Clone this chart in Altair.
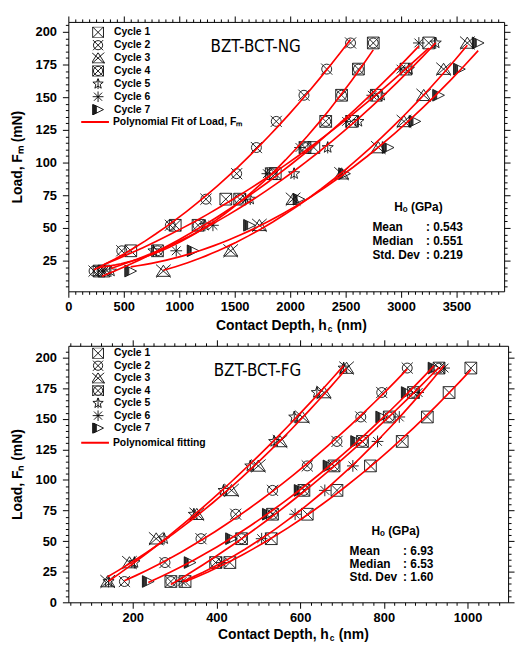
import math
import altair as alt
import pandas as pd

# ---------------- data ----------------
cycles = ["Cycle 1", "Cycle 2", "Cycle 3", "Cycle 4", "Cycle 5", "Cycle 6", "Cycle 7"]
loads = [17, 32.5, 52, 72, 91.5, 111.5, 131.5, 151.5, 171.5, 191.5]

# BZT-BCT-NG : contact depth (nm) at each load level
ng_cycle1 = [321, 563, 964, 1420, 1866, 2214, 2554, 2777, 3045, 3250]
ng_cycle2 = [232, 482, 920, 1241, 1518, 1696, 1875, 2125, 2330, 2545]
ng_cycle3 = [857, 1464, 1723, 2027, 2464, 2795, 3027, 3205, 3384, 3598]
ng_cycle4 = [277, 804, 1170, 1545, 1830, 2134, 2321, 2464, 2616, 2750]
ng_cycle5 = [384, 768, 1232, 1640, 2036, 2339, 2616, 2821, 3071, 3313]
ng_cycle6 = [304, 973, 1304, 1600, 1795, 2089, 2509, 2741, 3000, 3161]
ng_cycle7 = [562, 1125, 1634, 2080, 2491, 2884, 3125, 3339, 3527, 3696]

# BZT-BCT-FG : contact depth (nm) at each load level
fg_cycle1 = [325, 432, 531, 617, 688, 768, 844, 904, 956, 1008]
fg_cycle2 = [180, 277, 363, 446, 534, 617, 688, 745, 795, 856]
fg_cycle3 = [140, 192, 256, 353, 436, 500, 552, 605, 657, 711]
fg_cycle4 = [291, 398, 460, 534, 609, 681, 749, 813, 871, 932]
fg_cycle5 = [142, 204, 275, 346, 417, 481, 538, 586, 640, 704]
fg_cycle6 = [318, 413, 508, 588, 659, 726, 785, 837, 882, 944]
fg_cycle7 = [237, 337, 436, 524, 600, 669, 735, 795, 856, 920]

ng_name = ["BZT-BCT-NG"]
fg_name = ["BZT-BCT-FG"]
ng_fit_label = "Polynomial Fit of Load, F\u2098"
fg_fit_label = "Polynomical fitting"
stat_header = ["H\u2092 (GPa)"]
stat_names = ["Mean", "Median", "Std. Dev"]
ng_stats = [": 0.543", ": 0.551", ": 0.219"]
fg_stats = [": 6.93", ": 6.53", ": 1.60"]


def long_df(series):
    rows = []
    for cyc, depths in zip(cycles, series):
        for d, l in zip(depths, loads):
            rows.append({"cycle": cyc, "depth": d, "load": l})
    return pd.DataFrame(rows)


ng_df = long_df([ng_cycle1, ng_cycle2, ng_cycle3, ng_cycle4, ng_cycle5, ng_cycle6, ng_cycle7])
fg_df = long_df([fg_cycle1, fg_cycle2, fg_cycle3, fg_cycle4, fg_cycle5, fg_cycle6, fg_cycle7])

# ---------------- marker shapes ----------------
SQ = "M-1,-1L1,-1L1,1L-1,1Z"


def circ(r):
    return f"M{r},0A{r},{r},0,1,1,{-r},0A{r},{r},0,1,1,{r},0Z"


def xcross(a):
    return f"M{-a},{-a}L{a},{a}M{-a},{a}L{a},{-a}"


def star():
    pts = []
    for i in range(10):
        r = 1.0 if i % 2 == 0 else 0.42
        ang = -math.pi / 2 + i * math.pi / 5
        pts.append(f"{r * math.cos(ang):.3f},{r * math.sin(ang):.3f}")
    return "M" + "L".join(pts) + "Z"


half_fill = "".join(
    f"M{x:.2f},{-(1 - x) / 2 + 0.02:.2f}L{x:.2f},{(1 - x) / 2 - 0.02:.2f}"
    for x in [-0.92, -0.8, -0.68, -0.56, -0.44, -0.32]
)

shape_paths = [
    SQ + xcross(1),
    circ(0.85) + xcross(0.95),
    "M0,-1L1.2,0.9L-1.2,0.9Z" + "M-1.25,-1.1L1.25,1.1M-1.25,1.1L1.25,-1.1",
    SQ + circ(0.85) + xcross(1),
    star() + "M0,-1L0,1",
    "M-1,0L1,0M0,-1L0,1" + xcross(0.75),
    "M-1,-1L1,0L-1,1Z" + half_fill,
]

FONT = "Liberation Sans"
NAME_FONT = "Liberation Sans Narrow, DejaVu Sans Condensed, Roboto, sans-serif"


def tick_values(d0, d1, step):
    i0 = math.ceil(d0 / step - 1e-9)
    i1 = math.floor(d1 / step + 1e-9)
    return [round(i * step, 4) for i in range(i0, i1 + 1)]


def tsize(major):
    return {"condition": {"test": f"abs(datum.value % {major}) < 0.001", "value": 6}, "value": 3}


def main_axis(orient, vals, major, label_mod, pad, title=None):
    kw = dict(
        orient=orient, values=vals, tickSize=tsize(major), grid=False,
        labelExpr=f"abs(datum.value % {label_mod}) < 0.001 ? format(datum.value, 'd') : ''",
        labelOverlap=False, labelFlush=False, labelPadding=pad,
        domainColor="black", tickColor="black", labelColor="black",
        labelFont=FONT, labelFontSize=13, labelFontWeight="bold",
    )
    if title is not None:
        kw.update(title=title, titleFont=FONT, titleFontSize=14, titleFontWeight="bold",
                  titleColor="black", titlePadding=11)
    else:
        kw.update(title=None)
    return alt.Axis(**kw)


def mirror_axis(orient, vals, major):
    return alt.Axis(orient=orient, values=vals, tickSize=tsize(major), grid=False, labels=False,
                    title=None, domainColor="black", tickColor="black")


def panel(df, xdom, ydom, w, h, xmajor, xminor, xlab, ymajor, yminor, ylab, ytitle,
          fit_label, name, stats, stat_x, stat_y, stat_lh, xt_c, xt_y, leg_y, leg_row, line_y):
    xs = alt.Scale(domain=xdom, nice=False, zero=False)
    ys = alt.Scale(domain=ydom, nice=False, zero=False)
    xv = tick_values(xdom[0], xdom[1], xminor)
    yv = tick_values(ydom[0], ydom[1], yminor)

    pts = alt.Chart(df).mark_point(filled=False, size=140, strokeWidth=0.9, color="#111", opacity=1).encode(
        x=alt.X("depth:Q", scale=xs, axis=main_axis("bottom", xv, xmajor, xlab, 3)),
        y=alt.Y("load:Q", scale=ys, axis=main_axis("left", yv, ymajor, ylab, 6, ytitle)),
        shape=alt.Shape("cycle:N", scale=alt.Scale(domain=cycles, range=shape_paths),
                        legend=alt.Legend(orient="none", legendX=24, legendY=leg_y, title=None,
                                          labelFont=FONT, labelFontSize=10.5, labelFontWeight="bold",
                                          labelColor="black", symbolSize=120, symbolStrokeColor="black",
                                          symbolStrokeWidth=0.9, symbolFillColor="transparent",
                                          clipHeight=11, rowPadding=leg_row, labelOffset=10, padding=0)),
    )

    fit = alt.Chart(df).transform_regression(
        "depth", "load", method="poly", order=2, groupby=["cycle"]
    ).transform_calculate(fit=f"'{fit_label}'").mark_line(strokeWidth=1.7, clip=True).encode(
        x=alt.X("depth:Q", scale=xs, axis=None),
        y=alt.Y("load:Q", scale=ys, axis=None),
        detail="cycle:N",
        color=alt.Color("fit:N", scale=alt.Scale(range=["#ff0000"]),
                        legend=alt.Legend(orient="none", legendX=12, legendY=line_y, title=None,
                                          labelFont=FONT, labelFontSize=10.5, labelFontWeight="bold",
                                          labelColor="black", symbolType="stroke", symbolSize=784,
                                          symbolStrokeWidth=2, clipHeight=12, labelOffset=3, padding=0)),
    )

    frame = alt.Chart(df).mark_point(opacity=0).encode(
        x=alt.X("depth:Q", scale=xs, axis=mirror_axis("top", xv, xmajor)),
        y=alt.Y("load:Q", scale=ys, axis=mirror_axis("right", yv, ymajor)),
    )

    one = pd.DataFrame({"name": name, "head": stat_header})
    name_t = alt.Chart(one).mark_text(font=NAME_FONT, fontSize=17, color="black", align="center",
                                      baseline="middle").encode(
        text="name:N", x=alt.value(w * 0.43), y=alt.value(25))
    head_t = alt.Chart(one).mark_text(font=FONT, fontSize=12, fontWeight="bold", color="black",
                                      align="left", baseline="middle").encode(
        text="head:N", x=alt.value(stat_x + 22), y=alt.value(stat_y - 20))
    names_t = alt.Chart(one).mark_text(font=FONT, fontSize=12, fontWeight="bold", color="black",
                                       align="left", baseline="middle", lineHeight=stat_lh).encode(
        text=alt.value(stat_names), x=alt.value(stat_x), y=alt.value(stat_y))
    vals_t = alt.Chart(one).mark_text(font=FONT, fontSize=12, fontWeight="bold", color="black",
                                      align="left", baseline="middle", lineHeight=stat_lh).encode(
        text=alt.value(stats), x=alt.value(stat_x + 54), y=alt.value(stat_y))

    xt1 = alt.Chart(one).mark_text(font=FONT, fontSize=14, fontWeight="bold", color="black",
                                   align="right", baseline="middle").encode(
        text=alt.value("Contact Depth, h"), x=alt.value(xt_c), y=alt.value(xt_y))
    xt2 = alt.Chart(one).mark_text(font=FONT, fontSize=8.5, fontWeight="bold", color="black",
                                   align="left", baseline="middle").encode(
        text=alt.value("c"), x=alt.value(xt_c + 1), y=alt.value(xt_y + 3.5))
    xt3 = alt.Chart(one).mark_text(font=FONT, fontSize=14, fontWeight="bold", color="black",
                                   align="left", baseline="middle").encode(
        text=alt.value("(nm)"), x=alt.value(xt_c + 10), y=alt.value(xt_y))

    return alt.layer(pts, fit, frame, name_t, head_t, names_t, vals_t, xt1, xt2, xt3).resolve_axis(
        x="independent", y="independent").properties(width=w, height=h)


top = panel(ng_df, [0, 3930], [1.5, 207.6], 440, 272, 500, 62.5, 500, 25, 5, 25,
            "Load, F\u2098 (mN)", ng_fit_label, ng_name, ng_stats,
            307, 207, 14, 261, 307, 5, 2, 95)
bottom = panel(fg_df, [46, 1097], [0, 209.7], 444, 259, 200, 25, 200, 25, 5, 25,
               "Load, F\u2099 (mN)", fg_fit_label, fg_name, fg_stats,
               284, 207, 13, 263, 292, 2, 1.6, 92)

chart = alt.vconcat(top, bottom, spacing=5).resolve_scale(
    shape="independent", color="independent"
).properties(
    padding={"left": 10, "top": 12, "right": 2, "bottom": 2}, background="white"
).configure_view(stroke=None)

chart.save("out.html", embed_options={"renderer": "svg", "actions": False})
